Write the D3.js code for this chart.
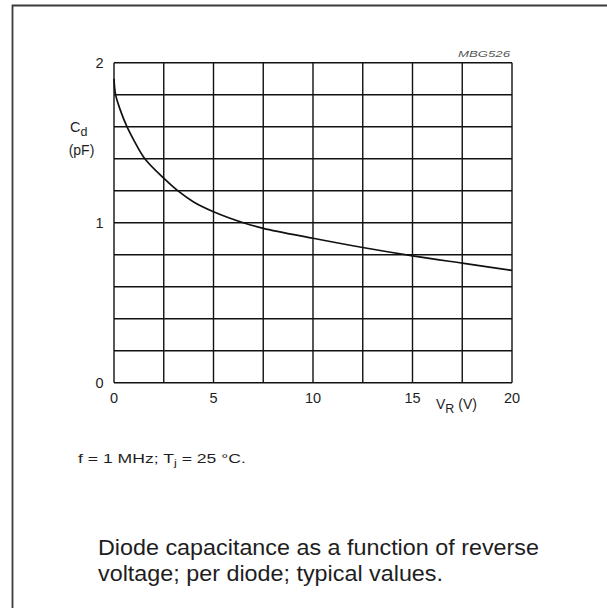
<!DOCTYPE html>
<html>
<head>
<meta charset="utf-8">
<script src="https://cdn.jsdelivr.net/npm/d3@7/dist/d3.min.js"></script>
<style>
  html, body { margin: 0; padding: 0; background: #fff; }
  svg { display: block; font-family: "Liberation Sans", Arial, sans-serif; }
</style>
</head>
<body>
<svg id="chart" width="607" height="608"></svg>
<script>
// Reverse voltage (V) and diode capacitance (pF), typical curve
const reverseVoltage = [0, 0.08, 0.3, 0.65, 1.0, 1.55, 2.5, 3.2, 4, 5, 6.5, 7.5, 10, 12.5, 15, 17.5, 20];
const capacitance    = [1.90, 1.80, 1.71, 1.60, 1.515, 1.40, 1.278, 1.20, 1.13, 1.069, 1.00, 0.965, 0.903, 0.845, 0.793, 0.747, 0.702];

// Axis tick labels and grid divisions
const xTickLabels = [0, 5, 10, 15, 20];
const yTickLabels = [0, 1, 2];
const xGridValues = [0, 2.5, 5, 7.5, 10, 12.5, 15, 17.5, 20];
const yGridValues = [0, 0.2, 0.4, 0.6, 0.8, 1.0, 1.2, 1.4, 1.6, 1.8, 2.0];

const svg = d3.select("#chart");
const ink = "#1e1e1e";

// Sheet frame (left and top edges)
svg.append("path")
  .attr("d", "M12.5,608 L12.5,5.5 L607,5.5")
  .attr("fill", "none")
  .attr("stroke", "#3a3a3a")
  .attr("stroke-width", 1.8);

const x = d3.scaleLinear().domain([0, 20]).range([114, 512]);
const y = d3.scaleLinear().domain([0, 2]).range([382.7, 62.7]);

// Grid
const grid = svg.append("g").attr("stroke", "#111").attr("stroke-width", 1.4);
grid.selectAll("line.v").data(xGridValues).join("line")
  .attr("class", "v")
  .attr("x1", d => x(d)).attr("x2", d => x(d))
  .attr("y1", y(0)).attr("y2", y(2));
grid.selectAll("line.h").data(yGridValues).join("line")
  .attr("class", "h")
  .attr("x1", x(0)).attr("x2", x(20))
  .attr("y1", d => y(d)).attr("y2", d => y(d));

// Tick labels
svg.append("g").selectAll("text").data(yTickLabels).join("text")
  .attr("x", 103.5)
  .attr("y", d => y(d) + 5)
  .attr("text-anchor", "end")
  .attr("font-size", 14.5)
  .attr("fill", ink)
  .text(d => d);

svg.append("g").selectAll("text").data(xTickLabels).join("text")
  .attr("x", d => x(d))
  .attr("y", 403)
  .attr("text-anchor", "middle")
  .attr("font-size", 14.5)
  .attr("fill", ink)
  .text(d => d);

// Axis titles
const xt = svg.append("text")
  .attr("x", 436).attr("y", 409)
  .attr("font-size", 14).attr("fill", ink);
xt.append("tspan").text("V");
xt.append("tspan").attr("dy", 4).attr("font-size", 12.5).text("R");
xt.append("tspan").attr("dy", -4).text(" (V)");

const yt = svg.append("text")
  .attr("x", 70).attr("y", 132)
  .attr("font-size", 14.5).attr("fill", ink);
yt.append("tspan").text("C");
yt.append("tspan").attr("dy", 4).attr("font-size", 12.5).text("d");

svg.append("text")
  .attr("x", 81.5).attr("y", 155)
  .attr("text-anchor", "middle")
  .attr("font-size", 14).attr("fill", ink)
  .text("(pF)");

// Figure code
svg.append("text")
  .attr("x", 458).attr("y", 56.5)
  .attr("font-size", 9)
  .attr("font-style", "italic")
  .attr("fill", "#555")
  .attr("textLength", 52)
  .attr("lengthAdjust", "spacingAndGlyphs")
  .text("MBG526");

// Capacitance curve
const pts = reverseVoltage.map((v, i) => [v, capacitance[i]]);
svg.append("path")
  .datum(pts)
  .attr("fill", "none")
  .attr("stroke", "#111")
  .attr("stroke-width", 1.7)
  .attr("d", d3.line().x(d => x(d[0])).y(d => y(d[1])).curve(d3.curveCatmullRom.alpha(0.5)));

// Conditions note, widened to the sheet's text width
const noteG = svg.append("g");
const note = noteG.append("text")
  .attr("x", 0).attr("y", 0)
  .attr("font-size", 12.5).attr("fill", ink);
note.append("tspan").text("f = 1 MHz; T");
note.append("tspan").attr("dy", 3).attr("font-size", 9).text("j");
note.append("tspan").attr("dy", -3).text(" = 25 \u00B0C.");
const nw = note.node().getBBox().width;
noteG.attr("transform", `translate(78,463) scale(${168 / nw},1)`);

// Caption
const caption = ["Diode capacitance as a function of reverse",
                 "voltage; per diode; typical values."];
const captionWidths = [441, 345];
svg.append("g").selectAll("text").data(caption).join("text")
  .attr("x", 98)
  .attr("y", (d, i) => 555 + i * 26)
  .attr("font-size", 21.5)
  .attr("fill", ink)
  .attr("textLength", (d, i) => captionWidths[i])
  .attr("lengthAdjust", "spacingAndGlyphs")
  .text(d => d);
</script>
</body>
</html>
